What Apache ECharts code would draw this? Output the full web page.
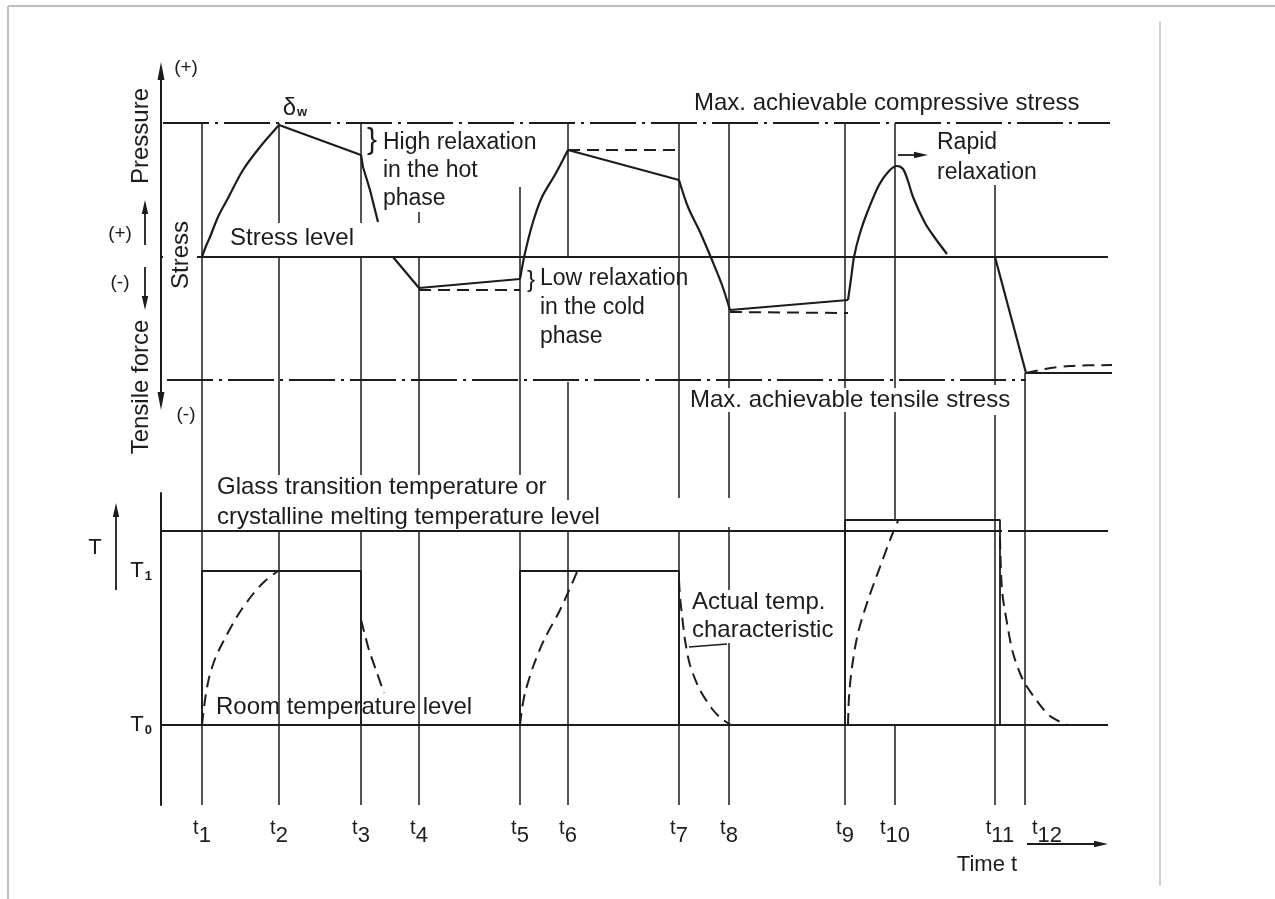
<!DOCTYPE html>
<html>
<head>
<meta charset="utf-8">
<title>Stress relaxation and temperature cycle</title>
<script src="https://cdn.jsdelivr.net/npm/echarts@6/dist/echarts.min.js"></script>
<style>
  html, body { margin: 0; padding: 0; background: #fff; }
  #chart { width: 1275px; height: 899px; }
</style>
</head>
<body>
<div id="chart"></div>
<script>
// time marks t1..t12 (drawing units along the time axis)
const tTimes = [202, 279, 361, 419, 520, 568, 679, 729, 845, 895, 995, 1025];

// stress panel: 0 = stress level, + = pressure, - = tensile force
const stressLevelLeft = [[126, 0], [163, 0]];
const stressLevelLine = [[197, 0], [1108, 0]];
const maxCompressive = [[163, 134], [1110, 134]];
const maxTensile = [[167, -123], [1026, -123]];

const riseT1T2 = [[202, 0], [206, 11], [210, 20], [218, 40], [227, 57], [243, 87], [260, 110], [279, 132]];
const holdT2T3 = [[279, 132], [361, 102], [363, 90], [370, 67], [378, 35]];
const coldT3T5 = [[393, 0], [419, -31], [520, -22]];
const riseT5T6 = [[520, -22], [525, 4], [533, 35], [542, 60], [556, 84], [568, 107]];
const holdT6T7 = [[568, 107], [679, 77]];
const dropT7T8 = [[679, 77], [688, 50], [700, 25], [712, -3], [722, -28], [730, -53]];
const coldT8T9 = [[730, -53], [848, -43]];
const peakT9T10 = [[848, -43], [851, -22], [854, 0], [860, 24], [867, 44], [879, 72], [889, 86],
                   [897, 91], [903, 88], [908, 76], [913, 60], [925, 34], [935, 19], [947, 3]];
const dropT11T12 = [[995, 0], [1026, -116], [1112, -116]];

const noRelaxCold1 = [[419, -33], [520, -33]];
const noRelaxHot = [[568, 107], [679, 107]];
const noRelaxCold2 = [[730, -55], [848, -56]];
const afterT12 = [[1026, -116], [1045, -112], [1070, -109], [1112, -108]];

// temperature panel: 0 = room temperature T0
const roomTemp = [[161, 0], [1108, 0]];
const glassLevelA = [[161, 194], [1002, 194]];
const glassLevelB = [[1008, 194], [1108, 194]];
const pulse1 = [[202, 0], [202, 154], [361, 154], [361, 0]];
const pulse2 = [[520, 0], [520, 154], [679, 154], [679, 0]];
const pulse3 = [[845, 0], [845, 205], [1000, 205], [1000, 0]];

const actual1 = [[202, 0], [205, 25], [209, 47], [215, 66], [223, 83], [238, 110], [253, 131], [265, 144], [278, 154]];
const actual2 = [[361, 105], [365, 90], [369, 75], [376, 55], [384, 32]];
const actual3 = [[520, 0], [522, 16], [525, 32], [533, 58], [544, 85], [560, 115], [577, 153]];
const actual4 = [[679, 145], [680, 128], [682, 110], [685, 85], [690, 60], [700, 35], [713, 15], [722, 6], [731, 0]];
const actual5 = [[848, 0], [849, 28], [852, 58], [858, 92], [868, 125], [880, 158], [890, 185], [898, 204]];
const actual6 = [[1000, 188], [1002, 135], [1007, 102], [1013, 72], [1023, 45], [1037, 24], [1050, 9], [1067, 0]];
const leader = [[689, 78], [727, 81]];

const T_LEVELS = [0, 154];

// vertical time lines, pieces [t, from, to] in each panel's units
const tLinesTop = [
  [202, 134, -213],
  [279, 134, 34], [279, 0, -218],
  [361, 134, 34], [361, 0, -218],
  [419, 45, 34], [419, 0, -218],
  [520, 70, -218],
  [568, 134, 0], [568, -125, -243],
  [679, 134, -241],
  [729, 134, -131], [729, -155, -241],
  [845, 134, -131], [845, -155, -213],
  [895, 134, -131], [895, -155, -213],
  [995, 72, -128], [995, -158, -213],
  [1025, -116, -213]
];
const tLinesBottom = [
  [202, 255, -80], [279, 194, -80], [361, 194, -80], [419, 194, -80],
  [520, 194, -80], [568, 194, -80], [679, 194, -80],
  [729, 198, 135], [729, 82, -80],
  [845, 255, -80], [895, 255, 205], [895, 0, -80],
  [995, 255, -80], [1025, 255, -80]
];

// small arrows [x1, y1, x2, y2]
const arrowsTop = [[145, 12, 145, 57], [145, -10, 145, -53], [898, 102, 928, 102]];
const arrowsBottom = [[116, 135, 116, 222], [1027, -119, 1108, -119]];

const notesTop = [
  { text: '(+)', x: 186, y: 189, size: 19, align: 'center' },
  { text: 'Pressure', x: 141, y: 121, size: 24, rotate: 90, align: 'center' },
  { text: '(+)', x: 120, y: 23, size: 19, align: 'center' },
  { text: '(-)', x: 120, y: -26, size: 19, align: 'center' },
  { text: 'Stress', x: 181, y: 2, size: 24, rotate: 90, align: 'center' },
  { text: 'Tensile force', x: 141, y: -130, size: 24, rotate: 90, align: 'center' },
  { text: '(-)', x: 186, y: -158, size: 19, align: 'center' },
  { text: '{d|δ}{w|w}', x: 295, y: 149, size: 24, align: 'center' },
  { text: '}', x: 372, y: 116, size: 30, align: 'center' },
  { text: 'High relaxation\nin the hot\nphase', x: 383, y: 128, size: 23, lh: 28, va: 'top' },
  { text: 'Stress level', x: 230, y: 19, size: 24 },
  { text: 'Max. achievable compressive stress', x: 694, y: 154, size: 24 },
  { text: 'Rapid\nrelaxation', x: 937, y: 129, size: 23, lh: 30, va: 'top' },
  { text: '}', x: 531, y: -23, size: 24, align: 'center' },
  { text: 'Low relaxation\nin the cold\nphase', x: 540, y: -7.5, size: 23, lh: 29, va: 'top' },
  { text: 'Max. achievable tensile stress', x: 690, y: -143, size: 24 }
];
const notesBottom = [
  { text: 'Glass transition temperature or\ncrystalline melting temperature level', x: 217, y: 253, size: 24, lh: 30, va: 'top' },
  { text: 'T', x: 95, y: 177, size: 22, align: 'center' },
  { text: 'Actual temp.\ncharacteristic', x: 692, y: 137, size: 24, lh: 28, va: 'top' },
  { text: 'Room temperature level', x: 216, y: 18, size: 24 },
  { text: 'Time t', x: 987, y: -140, size: 22, align: 'center' }
];

const ink = '#1c1c1c';
const font = '"Liberation Sans", Arial, sans-serif';

function line(data, grid, style, smooth) {
  return {
    type: 'line', xAxisIndex: grid, yAxisIndex: grid, data: data,
    symbol: 'none', clip: false, silent: true, animation: false,
    smooth: smooth || false,
    lineStyle: Object.assign({ color: ink, width: 2.2 }, style || {})
  };
}
const dashed = { type: [12, 7], width: 2 };
const dashDot = { type: [46, 6, 3, 6], width: 2 };

function tLines(data, grid) {
  return {
    type: 'custom', xAxisIndex: grid, yAxisIndex: grid, data: data, silent: true, animation: false,
    renderItem: function (params, api) {
      const a = api.coord([api.value(0), api.value(1)]);
      const b = api.coord([api.value(0), api.value(2)]);
      return { type: 'line', shape: { x1: a[0], y1: a[1], x2: b[0], y2: b[1] },
               style: { stroke: ink, lineWidth: 1.5 } };
    }
  };
}

function arrows(data, grid) {
  return {
    type: 'custom', xAxisIndex: grid, yAxisIndex: grid, data: data, silent: true, animation: false,
    renderItem: function (params, api) {
      const p = api.coord([api.value(0), api.value(1)]);
      const q = api.coord([api.value(2), api.value(3)]);
      const ang = Math.atan2(q[1] - p[1], q[0] - p[0]);
      const L = 14, W = 3.2;
      const bx = q[0] - L * Math.cos(ang), by = q[1] - L * Math.sin(ang);
      const nx = -Math.sin(ang) * W, ny = Math.cos(ang) * W;
      return { type: 'group', children: [
        { type: 'line', shape: { x1: p[0], y1: p[1], x2: bx, y2: by }, style: { stroke: ink, lineWidth: 1.8 } },
        { type: 'polygon', shape: { points: [[q[0], q[1]], [bx + nx, by + ny], [bx - nx, by - ny]] }, style: { fill: ink } }
      ] };
    }
  };
}

function notes(list, grid) {
  return {
    type: 'custom', xAxisIndex: grid, yAxisIndex: grid, silent: true, animation: false,
    data: list.map(function (n) { return [n.x, n.y]; }),
    renderItem: function (params, api) {
      const n = list[params.dataIndex];
      const p = api.coord([api.value(0), api.value(1)]);
      return {
        type: 'text', x: p[0], y: p[1], rotation: n.rotate ? n.rotate * Math.PI / 180 : 0,
        style: {
          text: n.text, fill: ink, fontSize: n.size, fontFamily: font,
          align: n.align || 'left', verticalAlign: n.va || 'middle',
          lineHeight: n.lh || n.size * 1.2,
          rich: {
            d: { fontSize: 24, fontFamily: font, fill: ink },
            w: { fontSize: 13, fontWeight: 'bold', fontFamily: font, fill: ink, padding: [8, 0, 0, 1] }
          }
        }
      };
    }
  };
}

const chart = echarts.init(document.getElementById('chart'));
chart.setOption({
  backgroundColor: '#fff',
  animation: false,
  graphic: [
    { type: 'line', shape: { x1: 8, y1: 6, x2: 1275, y2: 6 }, style: { stroke: '#bdbdbd', lineWidth: 2 } },
    { type: 'line', shape: { x1: 8, y1: 6, x2: 8, y2: 899 }, style: { stroke: '#bdbdbd', lineWidth: 2 } },
    { type: 'line', shape: { x1: 1160, y1: 22, x2: 1160, y2: 886 }, style: { stroke: '#d2d2d2', lineWidth: 2 } }
  ],
  grid: [
    { left: 161, right: 163, top: 71, height: 330 },
    { left: 161, right: 163, top: 493, height: 312 }
  ],
  xAxis: [
    { gridIndex: 0, type: 'value', min: 161, max: 1112, show: false },
    {
      gridIndex: 1, type: 'value', min: 161, max: 1112,
      axisLine: { show: false, onZero: false }, axisTick: { show: false }, splitLine: { show: false },
      axisLabel: {
        customValues: tTimes, margin: 12, color: ink, hideOverlap: false,
        formatter: function (v) {
          const i = tTimes.indexOf(v) + 1;
          const tStyle = i === 12 ? 'u' : (i === 11 ? 's' : 't');
          return '{' + tStyle + '|t}{n|' + i + '}';
        },
        rich: {
          t: { fontSize: 20, fontFamily: font, color: ink, padding: [0, 0, 8, 0] },
          s: { fontSize: 20, fontFamily: font, color: ink, padding: [0, 0, 8, 10] },
          u: { fontSize: 20, fontFamily: font, color: ink, padding: [0, 0, 8, 44] },
          n: { fontSize: 22, fontFamily: font, color: ink, padding: [8, 0, 0, 0] }
        }
      }
    }
  ],
  yAxis: [
    {
      gridIndex: 0, type: 'value', min: -144, max: 186,
      axisLine: { show: true, onZero: false, symbol: ['triangle', 'triangle'], symbolSize: [7, 18],
                  lineStyle: { color: ink, width: 2 } },
      axisTick: { show: false }, axisLabel: { show: false }, splitLine: { show: false }
    },
    {
      gridIndex: 1, type: 'value', min: -80, max: 232,
      axisLine: { show: true, onZero: false, lineStyle: { color: ink, width: 2 } },
      axisTick: { show: false }, splitLine: { show: false },
      axisLabel: {
        customValues: T_LEVELS, margin: 9, color: ink,
        formatter: function (v) { return '{T|T}{s|' + (v === 0 ? '0' : '1') + '}'; },
        rich: {
          T: { fontSize: 22, fontFamily: font, color: ink },
          s: { fontSize: 13, fontFamily: font, fontWeight: 'bold', color: ink, padding: [10, 0, 0, 1] }
        }
      }
    }
  ],
  series: [
    line(stressLevelLeft, 0, { width: 2 }),
    line(stressLevelLine, 0, { width: 2 }),
    line(maxCompressive, 0, dashDot),
    line(maxTensile, 0, dashDot),
    line(riseT1T2, 0, null, 0.3),
    line(holdT2T3, 0),
    line(coldT3T5, 0),
    line(riseT5T6, 0, null, 0.3),
    line(holdT6T7, 0),
    line(dropT7T8, 0, null, 0.3),
    line(coldT8T9, 0),
    line(peakT9T10, 0, null, 0.3),
    line(dropT11T12, 0),
    line(noRelaxCold1, 0, dashed),
    line(noRelaxHot, 0, dashed),
    line(noRelaxCold2, 0, dashed),
    line(afterT12, 0, dashed, 0.3),
    tLines(tLinesTop, 0),
    arrows(arrowsTop, 0),
    notes(notesTop, 0),

    line(roomTemp, 1, { width: 2 }),
    line(glassLevelA, 1, { width: 2 }),
    line(glassLevelB, 1, { width: 2 }),
    line(pulse1, 1, { width: 1.8 }),
    line(pulse2, 1, { width: 1.8 }),
    line(pulse3, 1, { width: 1.8 }),
    line(actual1, 1, dashed, 0.3),
    line(actual2, 1, dashed, 0.3),
    line(actual3, 1, dashed, 0.3),
    line(actual4, 1, dashed, 0.3),
    line(actual5, 1, dashed, 0.3),
    line(actual6, 1, dashed, 0.3),
    line(leader, 1, { width: 1.4 }),
    tLines(tLinesBottom, 1),
    arrows(arrowsBottom, 1),
    notes(notesBottom, 1)
  ]
});
</script>
</body>
</html>
